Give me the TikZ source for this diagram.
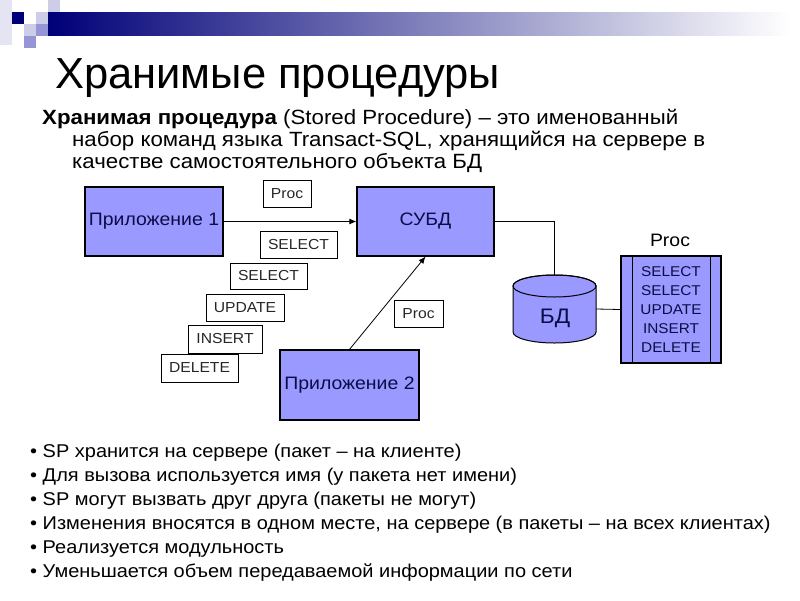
\documentclass[tikz,border=0pt]{standalone}
\usepackage{fontspec}
\setmainfont[FakeStretch=1.08]{Liberation Sans}
\newfontfamily\titlefont{Liberation Sans}
\usetikzlibrary{arrows.meta}
\definecolor{boxblue}{RGB}{153,153,255}
\definecolor{navytext}{RGB}{12,12,70}
\definecolor{hdrnavy}{RGB}{0,0,120}
\definecolor{sqlight}{RGB}{205,205,232}
\definecolor{sqmid}{RGB}{150,150,215}
\definecolor{sqfaint}{RGB}{228,228,242}
\begin{document}
\begin{tikzpicture}[x=1pt,y=-1pt,
  blk/.style={draw=black, line width=1.2pt, fill=boxblue, text=navytext, font=\fontsize{18}{20}\selectfont, inner sep=0pt},
  lbl/.style={draw=black, line width=0.8pt, fill=white, text=black!85, font=\fontsize{14.5}{16}\selectfont, inner sep=0pt},
  conn/.style={line width=0.8pt, draw=black},
  arr/.style={conn, -{Latex[length=7pt,width=6pt]}},
  deftext/.style={anchor=base west, inner sep=0pt, font=\fontsize{20.6}{22}\selectfont},
  bul/.style={anchor=base west, font=\fontsize{18.5}{20}\selectfont, text=black, inner sep=0pt}]
\useasboundingbox (0,0) rectangle (800,600);
\fill[white] (0,0) rectangle (800,600);
% header decoration
\fill[sqfaint] (0,0) rectangle (12,45);
\fill[sqlight] (48,0) rectangle (60,12);
\fill[hdrnavy] (12,12) rectangle (24,24);
\fill[sqlight] (36,12) rectangle (48,24);
\fill[sqmid] (36,24) rectangle (48,36);
\fill[sqlight] (24,24) rectangle (36,36);
\fill[sqmid] (24,36) rectangle (36,48);
\shade[left color=hdrnavy, right color=white] (48,12) rectangle (790,35);
% title
\node[anchor=base west, inner sep=0pt, font=\titlefont\fontsize{43.5}{46}\selectfont] (title) at (55,88) {Хранимые процедуры};
% definition
\node[deftext] (def1) at (42,124) {\textbf{Хранимая процедура} (Stored Procedure) – это именованный};
\node[deftext] (def2) at (72,146) {набор команд языка Transact-SQL, хранящийся на сервере в};
\node[deftext] (def3) at (72,168) {качестве самостоятельного объекта БД};
% main boxes
\node[blk, minimum width=138pt, minimum height=69pt] (app1) at (154,221.5) {Приложение 1};
\node[blk, minimum width=137pt, minimum height=69pt] (dbms) at (425.5,221.5) {СУБД};
\node[blk, minimum width=139pt, minimum height=70pt] (app2) at (349.5,385) {Приложение 2};
% labels
\node[lbl, minimum width=48pt, minimum height=27pt] (proc1) at (287,193.5) {Proc};
\node[lbl, minimum width=77pt, minimum height=27pt] (sel1) at (298.5,244.5) {SELECT};
\node[lbl, minimum width=77pt, minimum height=26pt] (sel2) at (268.5,276) {SELECT};
\node[lbl, minimum width=78pt, minimum height=27pt] (upd) at (245,307.5) {UPDATE};
\node[lbl, minimum width=74pt, minimum height=28pt] (ins) at (225,339) {INSERT};
\node[lbl, minimum width=77pt, minimum height=28pt] (del) at (199.5,368) {DELETE};
\node[lbl, minimum width=49pt, minimum height=27pt] (proc2) at (418.5,313.5) {Proc};
% arrows
\draw[arr] (app1.east) -- (dbms.west);
\draw[arr] (app2.north) -- (dbms.south);
% database cylinder
\coordinate (dbtop) at (554.5,275);
\coordinate (dbright) at (596,309);
\filldraw[fill=boxblue, draw=black, line width=1pt] (513,286) -- (513,332) arc[start angle=180, end angle=0, x radius=41.5, y radius=11] -- (596,286) arc[start angle=0, end angle=-180, x radius=41.5, y radius=11] -- cycle;
\draw[line width=1pt] (554.5,286) ellipse [x radius=41.5, y radius=11];
\node[text=navytext, font=\fontsize{21}{22}\selectfont, inner sep=0pt] (db) at (555,318) {БД};
% proc box
\node[draw=black, line width=1.2pt, fill=boxblue, minimum width=100pt, minimum height=107pt, inner sep=0pt] (procbox) at (671,309.5) {};
\draw[line width=1pt] ([xshift=12pt]procbox.north west) -- ([xshift=12pt]procbox.south west);
\draw[line width=1pt] ([xshift=-11pt]procbox.north east) -- ([xshift=-11pt]procbox.south east);
\node[align=center, text=navytext, font=\fontsize{14.2}{19}\selectfont, inner sep=0pt] (proctext) at (671,310) {SELECT\\SELECT\\UPDATE\\INSERT\\DELETE};
\node[font=\fontsize{18}{20}\selectfont, inner sep=0pt] (proclabel) at (670,240) {Proc};
% connectors
\draw[conn] (dbms.east) -| (dbtop);
\draw[conn] (dbright) -- (procbox.west);
% bullets
\node[bul] (b1) at (30,457) {• SP хранится на сервере (пакет – на клиенте)};
\node[bul] (b2) at (30,481) {• Для вызова используется имя (у пакета нет имени)};
\node[bul] (b3) at (30,505) {• SP могут вызвать друг друга (пакеты не могут)};
\node[bul] (b4) at (30,529) {• Изменения вносятся в одном месте, на сервере (в пакеты – на всех клиентах)};
\node[bul] (b5) at (30,553) {• Реализуется модульность};
\node[bul] (b6) at (30,577) {• Уменьшается объем передаваемой информации по сети};
\end{tikzpicture}
\end{document}
